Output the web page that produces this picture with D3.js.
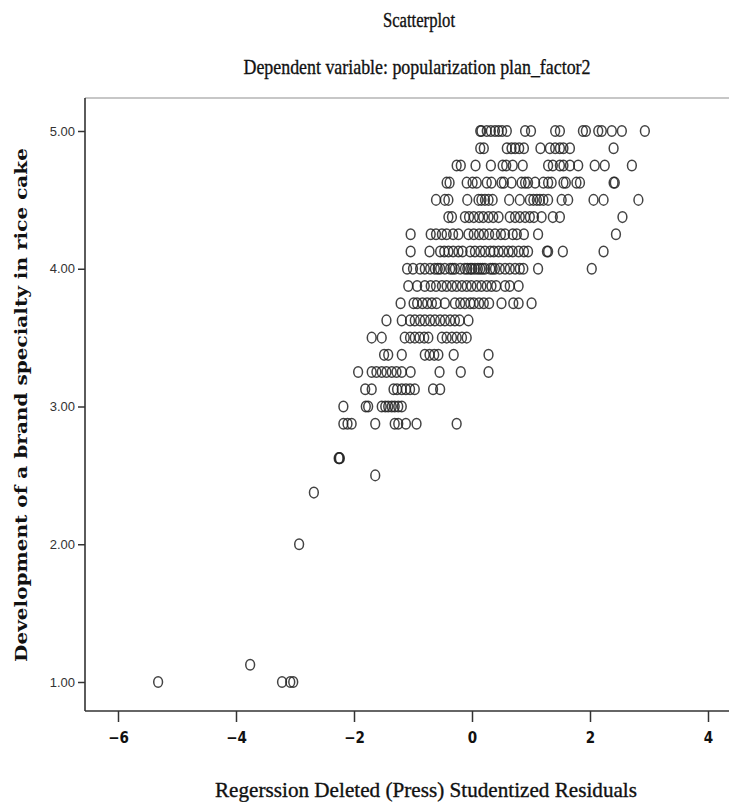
<!DOCTYPE html>
<html>
<head>
<meta charset="utf-8">
<script src="https://cdn.jsdelivr.net/npm/d3@7"></script>
<style>
  html, body { margin: 0; padding: 0; background: #fff; }
  svg { display: block; }
</style>
</head>
<body>
<script>
// residuals for each score level (y value)
const r500 = [0.14, 0.16, 0.25, 0.32, 0.39, 0.45, 0.51, 0.59, 0.90, 1.00, 1.41, 1.49, 1.88, 1.93, 2.14, 2.20, 2.37, 2.54, 2.93];
const r4875 = [0.14, 0.20, 0.59, 0.67, 0.73, 0.80, 0.88, 1.16, 1.32, 1.41, 1.49, 1.55, 1.66, 2.40];
const r475 = [-0.26, -0.19, 0.06, 0.32, 0.52, 0.58, 0.69, 0.86, 1.29, 1.37, 1.49, 1.55, 1.66, 1.80, 2.08, 2.25, 2.71];
const r4625 = [-0.43, -0.38, -0.09, 0.01, 0.08, 0.25, 0.33, 0.50, 0.54, 0.67, 0.84, 0.90, 0.95, 1.07, 1.21, 1.29, 1.35, 1.55, 1.59, 1.77, 1.83, 2.40, 2.42];
const r450 = [-0.61, -0.46, -0.40, -0.08, 0.11, 0.16, 0.22, 0.28, 0.35, 0.63, 0.81, 0.98, 1.04, 1.10, 1.15, 1.21, 1.29, 1.52, 1.63, 2.06, 2.23, 2.82];
const r4375 = [-0.40, -0.34, -0.12, -0.05, 0.03, 0.12, 0.19, 0.28, 0.36, 0.45, 0.64, 0.73, 0.81, 0.90, 0.98, 1.05, 1.18, 1.37, 1.49, 2.55];
const r425 = [-1.04, -0.70, -0.61, -0.51, -0.43, -0.32, -0.23, -0.06, 0.03, 0.12, 0.20, 0.29, 0.39, 0.49, 0.56, 0.69, 0.76, 0.88, 1.12, 2.44];
const r4125 = [-1.04, -0.72, -0.54, -0.47, -0.40, -0.32, -0.23, -0.16, -0.03, 0.05, 0.14, 0.22, 0.31, 0.37, 0.45, 0.53, 0.62, 0.69, 0.79, 0.88, 0.95, 1.27, 1.29, 1.54, 2.23];
const r400 = [-1.10, -1.00, -0.88, -0.80, -0.71, -0.63, -0.58, -0.54, -0.46, -0.37, -0.33, -0.29, -0.20, -0.12, -0.08, -0.03, 0.00, 0.05, 0.10, 0.14, 0.18, 0.22, 0.31, 0.35, 0.39, 0.47, 0.56, 0.64, 0.73, 0.81, 0.87, 1.12, 2.03];
const r3875 = [-1.08, -0.93, -0.80, -0.70, -0.61, -0.51, -0.43, -0.34, -0.26, -0.17, -0.09, -0.01, 0.08, 0.16, 0.25, 0.33, 0.41, 0.56, 0.64, 0.79];
const r375 = [-1.21, -0.99, -0.93, -0.84, -0.76, -0.68, -0.60, -0.46, -0.29, -0.20, -0.12, -0.03, 0.03, 0.12, 0.20, 0.29, 0.50, 0.70, 0.79, 1.01];
const r3625 = [-1.45, -1.19, -1.05, -0.97, -0.88, -0.80, -0.71, -0.63, -0.54, -0.46, -0.37, -0.29, -0.21, -0.06];
const r350 = [-1.70, -1.53, -1.14, -1.05, -0.97, -0.89, -0.81, -0.74, -0.51, -0.43, -0.34, -0.26, -0.17, -0.09];
const r3375 = [-1.49, -1.42, -1.19, -0.80, -0.72, -0.64, -0.57, -0.31, 0.28];
const r325 = [-1.93, -1.70, -1.62, -1.53, -1.45, -1.36, -1.28, -1.19, -1.04, -0.55, -0.19, 0.28];
const r3125 = [-1.81, -1.70, -1.33, -1.27, -1.19, -1.12, -1.05, -0.97, -0.66, -0.54];
const r300 = [-2.18, -1.80, -1.76, -1.53, -1.47, -1.42, -1.36, -1.31, -1.25, -1.19];
const r2875 = [-2.18, -2.11, -2.04, -1.64, -1.31, -1.25, -1.12, -0.94, -0.26];
const r2625 = [-2.26, -2.25, -2.24];
const r250 = [-1.64];
const r2375 = [-2.68];
const r200 = [-2.93];
const r1125 = [-3.76];
const r100 = [-5.32, -3.22, -3.08, -3.03];

const scoreLevels = [5, 4.875, 4.75, 4.625, 4.5, 4.375, 4.25, 4.125, 4, 3.875, 3.75, 3.625, 3.5, 3.375, 3.25, 3.125, 3, 2.875, 2.625, 2.5, 2.375, 2, 1.125, 1];
const residualRows = [r500, r4875, r475, r4625, r450, r4375, r425, r4125, r400, r3875, r375, r3625, r350, r3375, r325, r3125, r300, r2875, r2625, r250, r2375, r200, r1125, r100];

const xTicks = [-6, -4, -2, 0, 2, 4];
const yTicks = [1, 2, 3, 4, 5];

const title = "Scatterplot";
const subtitle = "Dependent variable: popularization plan_factor2";
const xTitle = "Regerssion Deleted (Press) Studentized Residuals";
const yTitle = "Development of a brand specialty in rice cake";

const points = residualRows.flatMap((row, i) => row.map(r => ({ x: r, y: scoreLevels[i] })));

const W = 729, H = 802;
const plotLeft = 85, plotBottom = 711, plotTop = 98, plotRight = 729;

const svg = d3.select("body").append("svg")
  .attr("width", W)
  .attr("height", H);

const x = d3.scaleLinear().domain([-6, 4]).range([118, 708]);
const y = d3.scaleLinear().domain([1, 5]).range([682, 131]);

// titles
svg.append("text")
  .attr("x", 419).attr("y", 27)
  .attr("text-anchor", "middle")
  .attr("font-family", "Liberation Serif, serif")
  .attr("font-size", 20)
  .attr("textLength", 72)
  .attr("lengthAdjust", "spacingAndGlyphs")
  .attr("fill", "#111")
  .attr("stroke", "#111").attr("stroke-width", 0.35)
  .text(title);

svg.append("text")
  .attr("x", 417).attr("y", 74)
  .attr("text-anchor", "middle")
  .attr("font-family", "Liberation Serif, serif")
  .attr("font-size", 21)
  .attr("textLength", 347)
  .attr("lengthAdjust", "spacingAndGlyphs")
  .attr("fill", "#111")
  .attr("stroke", "#111").attr("stroke-width", 0.35)
  .text(subtitle);

// frame top (light)
svg.append("line")
  .attr("x1", plotLeft).attr("x2", plotRight)
  .attr("y1", plotTop).attr("y2", plotTop)
  .attr("stroke", "#b5b5b5").attr("stroke-width", 1.5);

// y axis
const yAxis = svg.append("g")
  .attr("transform", "translate(" + plotLeft + ",0)")
  .call(d3.axisLeft(y).tickValues(yTicks).tickFormat(d3.format(".2f")).tickSize(7).tickPadding(3));
yAxis.select(".domain").remove();
yAxis.selectAll("line").attr("stroke", "#333").attr("stroke-width", 1.5);
yAxis.selectAll("text")
  .attr("font-family", "Liberation Sans, Arial, sans-serif")
  .attr("font-size", 13)
  .attr("fill", "#333");

// x axis
const xAxis = svg.append("g")
  .attr("transform", "translate(0," + plotBottom + ")")
  .call(d3.axisBottom(x).tickValues(xTicks).tickFormat(d3.format("d")).tickSize(11).tickPadding(10));
xAxis.select(".domain").remove();
xAxis.selectAll("line").attr("stroke", "#333").attr("stroke-width", 1.5);
xAxis.selectAll("text")
  .attr("font-family", "DejaVu Sans, sans-serif")
  .attr("font-stretch", "condensed")
  .attr("font-weight", "bold")
  .attr("font-size", 15)
  .attr("fill", "#111");

// axis lines
svg.append("line")
  .attr("x1", plotLeft).attr("x2", plotLeft)
  .attr("y1", plotTop).attr("y2", plotBottom)
  .attr("stroke", "#333").attr("stroke-width", 1.6);
svg.append("line")
  .attr("x1", plotLeft).attr("x2", plotRight)
  .attr("y1", plotBottom).attr("y2", plotBottom)
  .attr("stroke", "#333").attr("stroke-width", 1.6);

// points
svg.append("g")
  .selectAll("ellipse")
  .data(points)
  .join("ellipse")
  .attr("cx", d => x(d.x))
  .attr("cy", d => y(d.y))
  .attr("rx", 4.4)
  .attr("ry", 5.3)
  .attr("fill", "none")
  .attr("stroke", "#222")
  .attr("stroke-opacity", 0.85)
  .attr("stroke-width", 1.5);

// axis titles
svg.append("text")
  .attr("x", 426).attr("y", 797)
  .attr("text-anchor", "middle")
  .attr("font-family", "Liberation Serif, serif")
  .attr("font-size", 22)
  .attr("textLength", 422)
  .attr("lengthAdjust", "spacingAndGlyphs")
  .attr("fill", "#111")
  .attr("stroke", "#111").attr("stroke-width", 0.35)
  .text(xTitle);

svg.append("text")
  .attr("transform", "translate(27,405) rotate(-90)")
  .attr("text-anchor", "middle")
  .attr("font-family", "DejaVu Serif, serif")
  .attr("font-weight", "bold")
  .attr("font-size", 17)
  .attr("textLength", 514)
  .attr("lengthAdjust", "spacingAndGlyphs")
  .attr("fill", "#111")
  .text(yTitle);
</script>
</body>
</html>
